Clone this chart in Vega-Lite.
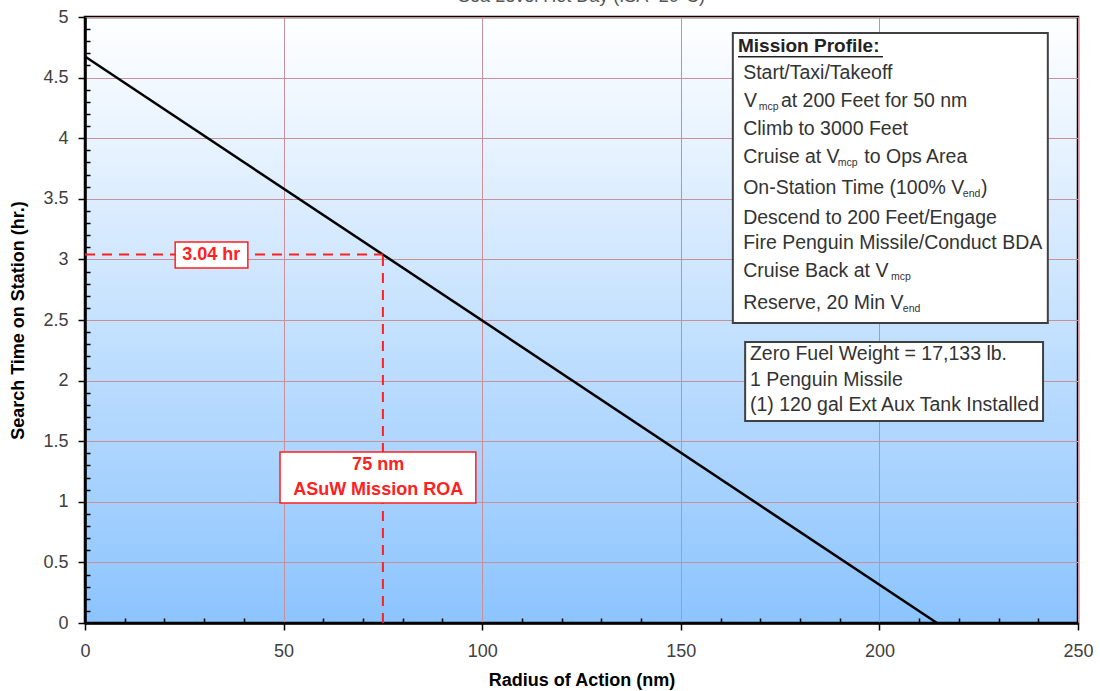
{
  "$schema": "https://vega.github.io/schema/vega-lite/v6.json",
  "width": 993,
  "height": 606,
  "autosize": {"type": "none"},
  "padding": {"left": 85, "top": 17, "right": 22, "bottom": 68},
  "background": "white",
  "title": {"text": "Sea Level Hot Day (ISA+20°C)", "fontSize": 18, "font": "Liberation Sans", "fontWeight": "normal", "color": "#555555", "baseline": "alphabetic", "offset": 0, "dy": 12},
  "config": {
    "font": "Liberation Sans",
    "view": {
      "stroke": "black",
      "strokeWidth": 2.5,
      "fill": {"gradient": "linear", "x1": 0, "y1": 0, "x2": 0, "y2": 1, "stops": [{"offset": 0, "color": "#ffffff"}, {"offset": 1, "color": "#8cc4fe"}]}
    }
  },
  "datasets": {
    "curve": [{"radius": 0, "time": 4.674}, {"radius": 214.5, "time": 0}],
    "roa": [{"radius": 75, "time": 3.04, "start": 0}],
    "boxes": [
      {"x1": 163.1, "x2": 242.4, "y1": 4.868, "y2": 2.475, "kind": "info"},
      {"x1": 166.2, "x2": 241.2, "y1": 2.318, "y2": 1.667, "kind": "info"},
      {"x1": 22.7, "x2": 41.0, "y1": 3.144, "y2": 2.929, "kind": "red"},
      {"x1": 49.1, "x2": 98.4, "y1": 1.411, "y2": 0.99, "kind": "red"}
    ],
    "underline": [{"x1": 164.4, "x2": 200.9, "y": 4.672}],
    "header": [{"x": 164.4, "y": 4.761, "text": "Mission Profile:"}],
    "labels": [
      {"x": 165.7, "y": 4.538, "text": "Start/Taxi/Takeoff"},
      {"x": 165.9, "y": 4.307, "text": "V"},
      {"x": 175.2, "y": 4.307, "text": "at 200 Feet for 50 nm"},
      {"x": 165.7, "y": 4.076, "text": "Climb to 3000 Feet"},
      {"x": 165.7, "y": 3.845, "text": "Cruise at V"},
      {"x": 196.2, "y": 3.845, "text": "to Ops Area"},
      {"x": 165.7, "y": 3.589, "text": "On-Station Time (100% V"},
      {"x": 225.6, "y": 3.589, "text": ")"},
      {"x": 165.7, "y": 3.342, "text": "Descend to 200 Feet/Engage"},
      {"x": 165.7, "y": 3.135, "text": "Fire Penguin Missile/Conduct BDA"},
      {"x": 165.7, "y": 2.904, "text": "Cruise Back at V"},
      {"x": 165.7, "y": 2.64, "text": "Reserve, 20 Min V"},
      {"x": 167.4, "y": 2.219, "text": "Zero Fuel Weight = 17,133 lb."},
      {"x": 167.4, "y": 2.005, "text": "1 Penguin Missile"},
      {"x": 167.4, "y": 1.799, "text": "(1) 120 gal Ext Aux Tank Installed"}
    ],
    "subs": [
      {"x": 169.6, "y": 4.307, "text": "mcp"},
      {"x": 189.5, "y": 3.845, "text": "mcp"},
      {"x": 221.0, "y": 3.589, "text": "end"},
      {"x": 202.9, "y": 2.904, "text": "mcp"},
      {"x": 205.9, "y": 2.64, "text": "end"}
    ],
    "redtext": [
      {"x": 31.8, "y": 3.036, "text": "3.04 hr"},
      {"x": 73.8, "y": 1.304, "text": "75 nm"},
      {"x": 73.8, "y": 1.097, "text": "ASuW Mission ROA"}
    ]
  },
  "layer": [
    {
      "data": {"name": "curve"},
      "mark": {"type": "line", "color": "black", "strokeWidth": 2.5},
      "encoding": {
        "x": {"field": "radius", "type": "quantitative", "scale": {"domain": [0, 250], "nice": false},
          "axis": {"values": [0,10,20,30,40,50,60,70,80,90,100,110,120,130,140,150,160,170,180,190,200,210,220,230,240,250],
            "tickCount": 1000,
            "format": "~g",
            "labelExpr": "datum.value % 50 === 0 ? datum.label : ''",
            "title": "Radius of Action (nm)", "titleFontSize": 18, "titleFontWeight": "bold", "titleColor": "black", "titleY": 48, "titleBaseline": "top",
            "labelFontSize": 18, "labelColor": "#404040", "labelPadding": 12,
            "tickSize": {"condition": {"test": "datum.value % 50 === 0", "value": 7}, "value": -5},
            "tickColor": "black", "tickWidth": 1.5, "domainColor": "black", "domainWidth": 2.5,
            "grid": true, "gridColor": "#c8909a", "gridWidth": 1,
            "gridOpacity": {"condition": {"test": "datum.value % 50 === 0", "value": 1}, "value": 0},
            "labelFlush": false, "labelOverlap": false}},
        "y": {"field": "time", "type": "quantitative", "scale": {"domain": [0, 5], "nice": false},
          "axis": {"values": [0,0.1,0.2,0.3,0.4,0.5,0.6,0.7,0.8,0.9,1,1.1,1.2,1.3,1.4,1.5,1.6,1.7,1.8,1.9,2,2.1,2.2,2.3,2.4,2.5,2.6,2.7,2.8,2.9,3,3.1,3.2,3.3,3.4,3.5,3.6,3.7,3.8,3.9,4,4.1,4.2,4.3,4.4,4.5,4.6,4.7,4.8,4.9,5],
            "tickCount": 1000,
            "format": "~g",
            "labelExpr": "abs(datum.value * 2 - round(datum.value * 2)) < 0.001 ? datum.label : ''",
            "title": "Search Time on Station (hr.)", "titleFontSize": 18, "titleFontWeight": "bold", "titleColor": "black", "titleX": -67, "titleBaseline": "middle",
            "labelFontSize": 18, "labelColor": "#404040", "labelPadding": 10,
            "tickSize": {"condition": {"test": "abs(datum.value * 2 - round(datum.value * 2)) < 0.001", "value": 7}, "value": -5},
            "tickColor": "black", "tickWidth": 1.5, "domainColor": "black", "domainWidth": 2.5,
            "grid": true, "gridColor": "#c8909a", "gridWidth": 1,
            "gridOpacity": {"condition": {"test": "abs(datum.value * 2 - round(datum.value * 2)) < 0.001", "value": 1}, "value": 0},
            "labelFlush": false, "labelOverlap": false}}
      }
    },
    {
      "data": {"name": "roa"},
      "mark": {"type": "rule", "color": "#ff2020", "strokeWidth": 2, "strokeDash": [10, 7]},
      "encoding": {
        "x": {"field": "radius", "type": "quantitative"},
        "y": {"field": "start", "type": "quantitative"},
        "y2": {"field": "time"}
      }
    },
    {
      "data": {"name": "roa"},
      "mark": {"type": "rule", "color": "#ff2020", "strokeWidth": 2, "strokeDash": [10, 7]},
      "encoding": {
        "x": {"field": "start", "type": "quantitative"},
        "x2": {"field": "radius"},
        "y": {"field": "time", "type": "quantitative"}
      }
    },
    {
      "data": {"name": "boxes"},
      "transform": [{"filter": "datum.kind === 'info'"}],
      "mark": {"type": "rect", "fill": "white", "stroke": "#404040", "strokeWidth": 2},
      "encoding": {
        "x": {"field": "x1", "type": "quantitative"},
        "x2": {"field": "x2"},
        "y": {"field": "y1", "type": "quantitative"},
        "y2": {"field": "y2"}
      }
    },
    {
      "data": {"name": "boxes"},
      "transform": [{"filter": "datum.kind === 'red'"}],
      "mark": {"type": "rect", "fill": "white", "stroke": "#ff2020", "strokeWidth": 1.5},
      "encoding": {
        "x": {"field": "x1", "type": "quantitative"},
        "x2": {"field": "x2"},
        "y": {"field": "y1", "type": "quantitative"},
        "y2": {"field": "y2"}
      }
    },
    {
      "data": {"name": "underline"},
      "mark": {"type": "rule", "color": "#222222", "strokeWidth": 1.5},
      "encoding": {
        "x": {"field": "x1", "type": "quantitative"},
        "x2": {"field": "x2"},
        "y": {"field": "y", "type": "quantitative"}
      }
    },
    {
      "data": {"name": "header"},
      "mark": {"type": "text", "align": "left", "baseline": "middle", "fontSize": 19, "fontWeight": "bold", "color": "#222222"},
      "encoding": {
        "x": {"field": "x", "type": "quantitative"},
        "y": {"field": "y", "type": "quantitative"},
        "text": {"field": "text"}
      }
    },
    {
      "data": {"name": "labels"},
      "mark": {"type": "text", "align": "left", "baseline": "middle", "fontSize": 19.5, "color": "#333333"},
      "encoding": {
        "x": {"field": "x", "type": "quantitative"},
        "y": {"field": "y", "type": "quantitative"},
        "text": {"field": "text"}
      }
    },
    {
      "data": {"name": "subs"},
      "mark": {"type": "text", "align": "left", "baseline": "middle", "fontSize": 10.5, "dy": 6, "color": "#333333"},
      "encoding": {
        "x": {"field": "x", "type": "quantitative"},
        "y": {"field": "y", "type": "quantitative"},
        "text": {"field": "text"}
      }
    },
    {
      "data": {"name": "redtext"},
      "mark": {"type": "text", "align": "center", "baseline": "middle", "fontSize": 18, "fontWeight": "bold", "color": "#ff2020"},
      "encoding": {
        "x": {"field": "x", "type": "quantitative"},
        "y": {"field": "y", "type": "quantitative"},
        "text": {"field": "text"}
      }
    }
  ]
}
